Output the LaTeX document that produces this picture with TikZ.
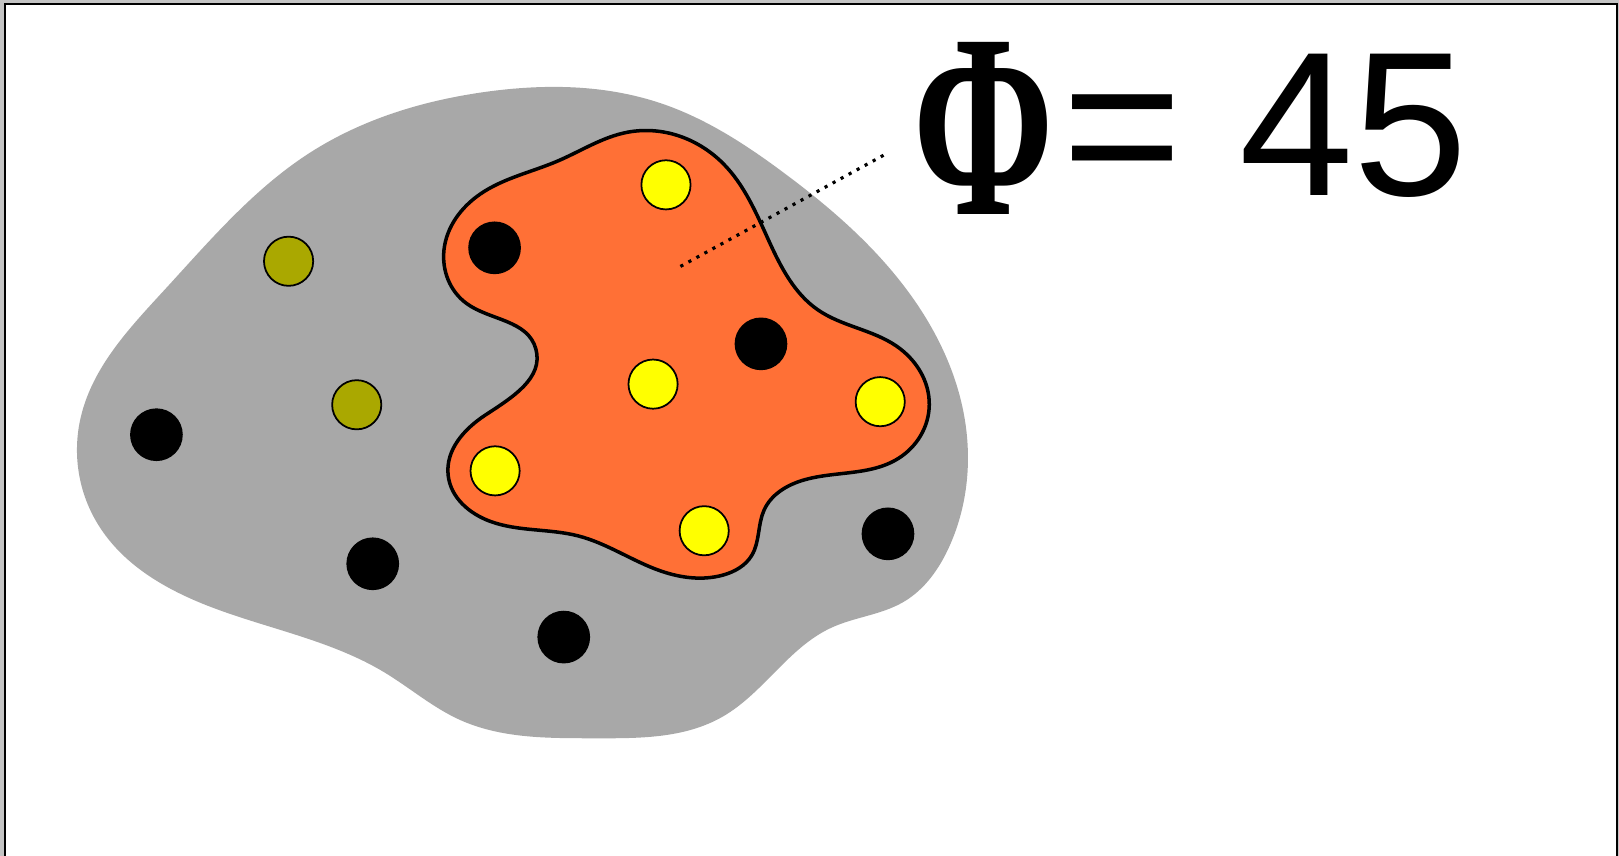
\documentclass[tikz,border=0pt]{standalone}
\usepackage{fontspec}
\usepackage{graphicx}
\usetikzlibrary{hobby}
\newfontfamily\labelsans{Liberation Sans}
\newfontfamily\labelserif{Liberation Serif}
\definecolor{framebg}{RGB}{196,196,196}
\definecolor{blobgray}{RGB}{168,168,168}
\definecolor{blaze}{RGB}{255,112,54}
\definecolor{dotyellow}{RGB}{255,255,0}
\definecolor{dotolive}{RGB}{170,168,0}
\tikzset{
  blackdot/.style={circle, fill=black, inner sep=0pt, minimum size=15pt},
  yellowdot/.style={circle, fill=dotyellow, draw=black, line width=0.5pt, inner sep=0pt, minimum size=14pt},
  olivedot/.style={circle, fill=dotolive, draw=black, line width=0.5pt, inner sep=0pt, minimum size=14pt},
  leader/.style={line width=0.9pt, dash pattern=on 0.9pt off 1.7pt},
}
\begin{document}
\begin{tikzpicture}[x=0.010325cm, y=-0.010325cm]
\useasboundingbox (0,0) rectangle (1568,829);
\clip (0,0) rectangle (1568,829);
\fill[framebg] (0,0) rectangle (1568,829);
\draw[fill=white, line width=0.6pt] (5,4) rectangle (1566,860);

% gray region
\fill[blobgray, use Hobby shortcut, closed=true]
 (470,89) .. (640,100) .. (760,168) .. (880,283) .. (935,410) .. (920,528)
 .. (875,583) .. (805,608) .. (700,694) .. (575,715) .. (445,697)
 .. (372,651) .. (210,590) .. (95,508) .. (78,405) .. (160,280) .. (300,148);

% orange region
\draw[fill=blaze, line width=1pt, use Hobby shortcut, closed=true]
 (608,128) .. (540,156) .. (465,188) .. (430,242) .. (452,294) .. (519,338)
 .. (470,402) .. (434,460) .. (475,505) .. (560,519) .. (640,553)
 .. (700,557) .. (728,538) .. (740,494) .. (778,465) .. (870,444) .. (900,392)
 .. (868,335) .. (792,300) .. (745,234) .. (700,158);

% dots
\node[blackdot] (b1) at (151.5,421) {};
\node[blackdot] (b2) at (361,546) {};
\node[blackdot] (b3) at (546,617) {};
\node[blackdot] (b4) at (860,517) {};
\node[blackdot] (b5) at (479,240) {};
\node[blackdot] (b6) at (737,333) {};
\node[olivedot] (o1) at (279.5,253) {};
\node[olivedot] (o2) at (345.5,392) {};
\node[yellowdot] (y1) at (645,179) {};
\node[yellowdot] (y2) at (632.5,372) {};
\node[yellowdot] (y3) at (852.5,389) {};
\node[yellowdot] (y4) at (479.5,456) {};
\node[yellowdot] (y5) at (682,514) {};

% label
\node[inner sep=0pt, anchor=center] (phi) at (952.5,124.3)
  {\resizebox{40pt}{49pt}{\labelserif\bfseries Φ}};
\node[inner sep=0pt, anchor=base west] (val) at (1028,189)
  {\labelsans\fontsize{58.5}{62}\selectfont = 45};

\coordinate (inner) at (659,258);
\coordinate (outer) at (860,148);
\draw[leader] (inner) -- (outer);
\end{tikzpicture}
\end{document}
